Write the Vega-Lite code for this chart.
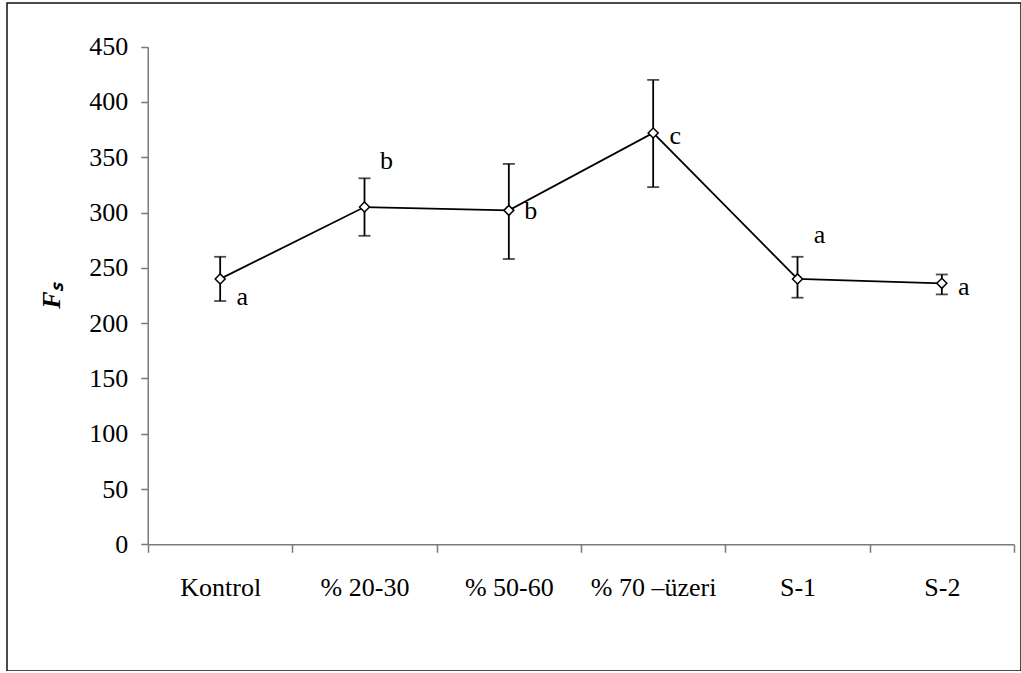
{
  "$schema": "https://vega.github.io/schema/vega-lite/v6.json",
  "autosize": {"type": "none"},
  "padding": {"left": 7, "top": 3, "right": 0, "bottom": 0},
  "width": 1014,
  "height": 668,
  "background": "white",
  "config": {
    "view": {"stroke": "#111", "strokeWidth": 1.5},
    "font": "Liberation Serif",
    "axis": {"grid": false, "labelFont": "Liberation Serif", "titleFont": "Liberation Serif", "labelColor": "#000", "domainColor": "#7a7a7a", "tickColor": "#7a7a7a", "domainWidth": 1.5, "tickWidth": 1.5}
  },
  "data": {
    "values": [
      {"group": "Kontrol", "mean": 240, "low": 220, "high": 260, "letter": "a", "letterY": 224},
      {"group": "% 20-30", "mean": 305, "low": 279, "high": 331, "letter": "b", "letterY": 347},
      {"group": "% 50-60", "mean": 302, "low": 258, "high": 344, "letter": "b", "letterY": 301},
      {"group": "% 70 –üzeri", "mean": 372, "low": 323, "high": 420, "letter": "c", "letterY": 369},
      {"group": "S-1", "mean": 240, "low": 223, "high": 260, "letter": "a", "letterY": 280},
      {"group": "S-2", "mean": 236, "low": 226, "high": 244, "letter": "a", "letterY": 233}
    ]
  },
  "encoding": {
    "x": {
      "field": "group", "type": "nominal", "sort": null,
      "scale": {"type": "band", "range": [141, 1007], "paddingInner": 0, "paddingOuter": 0},
      "axis": {"title": null, "labelAngle": 0, "labelFontSize": 26, "tickBand": "extent", "tickSize": 8, "labelPadding": 22, "offset": -126.7, "labelBaseline": "top"}
    }
  },
  "layer": [
    {
      "mark": {"type": "rule", "color": "#000", "strokeWidth": 1.8},
      "encoding": {
        "y": {"field": "low", "type": "quantitative", "scale": {"domain": [0, 450], "range": [541.3, 43.7], "nice": false, "zero": true},
          "axis": {"title": "Fₛ", "titleFontSize": 26, "titleFontWeight": "bold", "titleFontStyle": "italic", "titleColor": "#000", "values": [0, 50, 100, 150, 200, 250, 300, 350, 400, 450], "labelFontSize": 26, "tickSize": 7, "labelPadding": 13, "offset": -140.7, "titlePadding": 24}},
        "y2": {"field": "high"}
      }
    },
    {
      "mark": {"type": "tick", "color": "#000", "size": 12, "thickness": 1.8},
      "encoding": {"y": {"field": "low", "type": "quantitative"}}
    },
    {
      "mark": {"type": "tick", "color": "#000", "size": 12, "thickness": 1.8},
      "encoding": {"y": {"field": "high", "type": "quantitative"}}
    },
    {
      "mark": {"type": "line", "color": "#000", "strokeWidth": 1.8},
      "encoding": {"y": {"field": "mean", "type": "quantitative"}}
    },
    {
      "mark": {"type": "point", "shape": "diamond", "filled": true, "fill": "white", "stroke": "#000", "strokeWidth": 1.5, "size": 100, "opacity": 1},
      "encoding": {"y": {"field": "mean", "type": "quantitative"}}
    },
    {
      "mark": {"type": "text", "fontSize": 26, "font": "Liberation Serif", "color": "#000", "dx": 22, "align": "center", "baseline": "middle"},
      "encoding": {"y": {"field": "letterY", "type": "quantitative"}, "text": {"field": "letter"}}
    }
  ]
}
